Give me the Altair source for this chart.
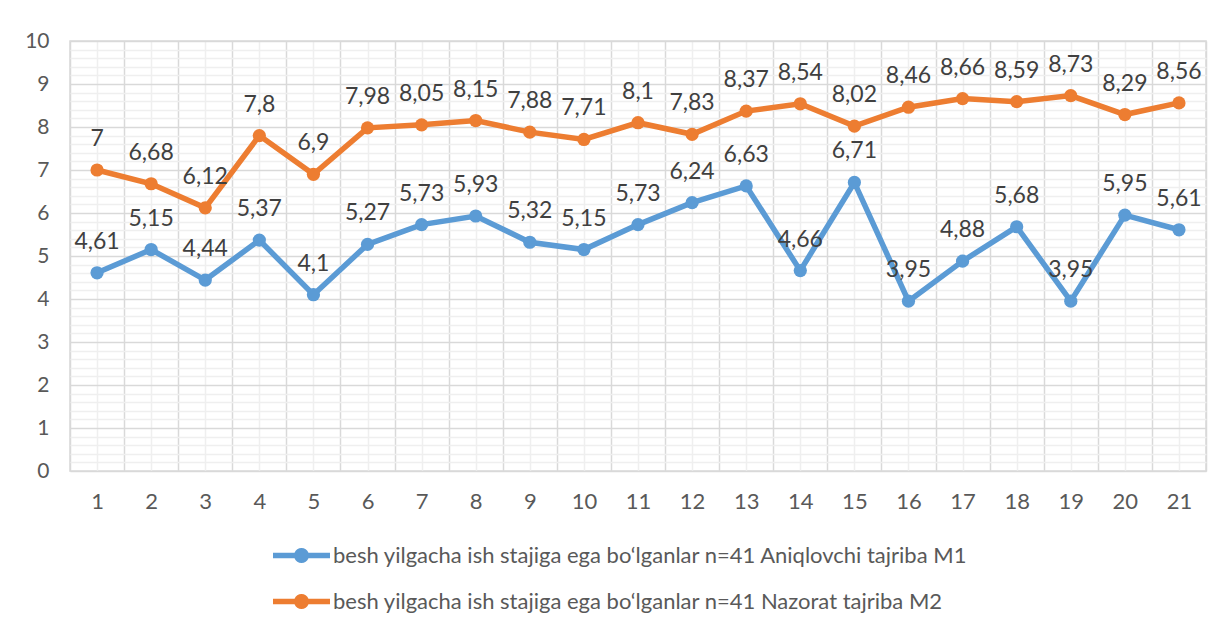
import altair as alt
import pandas as pd

periods = list(range(1, 22))
m1 = [4.61, 5.15, 4.44, 5.37, 4.1, 5.27, 5.73, 5.93, 5.32, 5.15, 5.73,
      6.24, 6.63, 4.66, 6.71, 3.95, 4.88, 5.68, 3.95, 5.95, 5.61]
m2 = [7, 6.68, 6.12, 7.8, 6.9, 7.98, 8.05, 8.15, 7.88, 7.71, 8.1,
      7.83, 8.37, 8.54, 8.02, 8.46, 8.66, 8.59, 8.73, 8.29, 8.56]
series = [
    "besh yilgacha ish stajiga ega bo‘lganlar n=41 Aniqlovchi tajriba M1",
    "besh yilgacha ish stajiga ega bo‘lganlar n=41 Nazorat tajriba M2",
]
colors = ["#5B9BD5", "#ED7D31"]
y_ticks = list(range(0, 11))
y_minor = [round(i * 0.2, 1) for i in range(51) if i % 5]
x_bounds = [i + 0.5 for i in range(0, 22)]

rows = []
for s, vals in zip(series, [m1, m2]):
    for p, v in zip(periods, vals):
        rows.append({"period": p, "value": v, "series": s, "line_id": s})
df = pd.DataFrame(rows)

FONT = "Lato"
MAJOR = "#D9D9D9"
MINOR = "#EFEFEF"
XAXIS_FS = 22
YAXIS_FS = 21
LABEL_FS = 23
LEGEND_FS = 22

xscale = alt.Scale(domain=[0.5, 21.5], nice=False, zero=False)
yscale = alt.Scale(domain=[0, 10], nice=False, zero=True)
cscale = alt.Scale(domain=series, range=colors)

# legend symbol: thick line with a dot in the middle (spans -2..2 units)
h, r, c = 0.193, 0.526, 0.489
sym = (f"M-2,{-h} L{-c},{-h} A{r},{r} 0 0,1 {c},{-h} L2,{-h} L2,{h} "
       f"L{c},{h} A{r},{r} 0 0,1 {-c},{h} L-2,{h} Z")

legend = alt.Legend(
    orient="none", legendX=217, legendY=500, direction="vertical", title=None,
    symbolType=sym, symbolSize=812, symbolStrokeWidth=0, symbolOpacity=1,
    labelFont=FONT, labelFontSize=LEGEND_FS, labelColor="#595959", labelLimit=1000,
    labelOffset=17, rowPadding=20, padding=0,
)

base = alt.Chart(df)

minor = base.mark_point(opacity=0).encode(
    x=alt.X("period:Q", scale=xscale, title=None,
            axis=alt.Axis(orient="bottom", values=periods, grid=True, gridColor=MINOR,
                          gridWidth=1.5, ticks=False, domain=False, labelPadding=20,
                          labelFont=FONT, labelFontSize=XAXIS_FS, labelColor="#595959")),
    y=alt.Y("value:Q", scale=yscale, title=None,
            axis=alt.Axis(orient="left", values=y_minor, grid=True, gridColor=MINOR,
                          gridWidth=1.5, labels=False, ticks=False, domain=False)),
)

lines = base.mark_line(strokeWidth=5.5).encode(
    x=alt.X("period:Q", scale=xscale, title=None,
            axis=alt.Axis(orient="bottom", values=x_bounds, grid=True, gridColor=MAJOR,
                          gridWidth=1.5, labels=False, ticks=False, domain=False)),
    y=alt.Y("value:Q", scale=yscale, title=None,
            axis=alt.Axis(orient="left", values=y_ticks, grid=True, gridColor=MAJOR,
                          gridWidth=1.5, ticks=False, domain=False, labelPadding=21,
                          labelFont=FONT, labelFontSize=YAXIS_FS, labelColor="#595959")),
    stroke=alt.Stroke("line_id:N", scale=alt.Scale(range=colors), legend=None),
)

points = base.mark_circle(size=175, opacity=1).encode(
    x=alt.X("period:Q", scale=xscale, axis=None),
    y=alt.Y("value:Q", scale=yscale, axis=None),
    color=alt.Color("series:N", scale=cscale, legend=legend),
)

labels = base.transform_calculate(
    label="replace(toString(datum.value), '.', ',')"
).mark_text(dy=-31, font=FONT, fontSize=LABEL_FS, color="#404040").encode(
    x=alt.X("period:Q", scale=xscale, axis=None),
    y=alt.Y("value:Q", scale=yscale, axis=None),
    text="label:N",
)

chart = alt.layer(minor, lines, points, labels).resolve_axis(
    x="independent", y="independent"
).properties(
    width=1136, height=430,
    autosize=alt.AutoSizeParams(type="none"),
    padding={"left": 62, "top": 33, "right": 10, "bottom": 152},
).configure(background="white").configure_view(stroke=MAJOR, strokeWidth=1.5)

chart.save("out.html", embed_options={"renderer": "svg", "actions": False})
